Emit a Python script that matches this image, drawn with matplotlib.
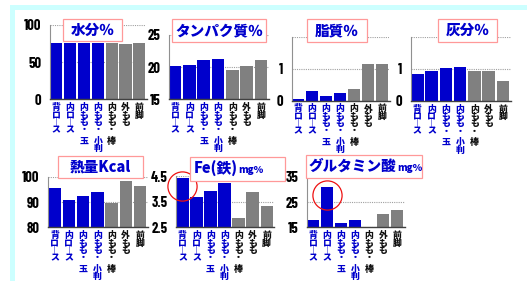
import matplotlib
matplotlib.use("Agg")
import matplotlib.pyplot as plt
from matplotlib.patches import Rectangle
from matplotlib.transforms import blended_transform_factory, offset_copy

plt.rcParams['font.family'] = ['Noto Sans CJK JP', 'DejaVu Sans']

categories = ["背ロース", "内ロース", "内もも・玉", "内もも・小判", "内もも・棒", "外もも", "前脚"]
is_blue = [True, True, True, True, False, False, False]

water = [76.2, 76.2, 76.2, 76.2, 76.2, 74.4, 76.2]
protein = [20.2, 20.3, 21.1, 21.2, 19.6, 20.2, 21.1]
fat = [0.05, 0.31, 0.15, 0.24, 0.36, 1.13, 1.13]
ash = [0.83, 0.94, 1.02, 1.06, 0.94, 0.94, 0.63]
energy = [95.6, 90.8, 92.4, 94.0, 89.7, 98.3, 96.3]
iron = [4.43, 3.69, 3.93, 4.24, 2.87, 3.89, 3.34]
glutamic = [17.9, 31.0, 16.6, 17.9, 15.2, 20.3, 21.9]

W, H = 527, 281
BLUE = '#0000cc'
GRAY = '#808080'

fig = plt.figure(figsize=(W / 100, H / 100), dpi=100)
fig.patch.set_facecolor('white')

def fbox(l, t, r, b):
    return [l / W, 1 - b / H, (r - l) / W, (b - t) / H]

# cyan frame
fig.patches.append(Rectangle((10 / W, 0), 5 / W, 1 - 5 / H, transform=fig.transFigure,
                             facecolor='#ccffff', edgecolor='none', zorder=0))
fig.patches.append(Rectangle((10 / W, 1 - 10 / H), 1, 5 / H, transform=fig.transFigure,
                             facecolor='#ccffff', edgecolor='none', zorder=0))

tick_font = dict(family=['Barlow Condensed', 'DejaVu Sans'], weight='bold', size=10.5)
LABEL_FS = 6.4
LS = 0.76

def vert(s):
    return "\n".join('｜' if ch == 'ー' else ch for ch in s)

def panel(rect, values, ylim, ticks, ticklabels):
    ax = fig.add_axes(fbox(*rect))
    cols = [BLUE if b else GRAY for b in is_blue]
    x = list(range(len(categories)))
    ax.bar(x, values, width=0.88, color=cols, zorder=2)
    ax.set_xlim(-0.46, len(categories) - 0.48)
    ax.set_ylim(*ylim)
    ax.set_yticks(ticks)
    ax.set_yticklabels(ticklabels, fontdict=tick_font)
    ax.tick_params(axis='y', length=0, pad=6)
    ax.set_xticks([])
    ax.yaxis.grid(True, linestyle=(0, (1, 1)), color='#a0a0a0', lw=0.8)
    ax.set_axisbelow(True)
    for s in ['top', 'right']:
        ax.spines[s].set_visible(False)
    ax.spines['left'].set_color('#909090')
    ax.spines['left'].set_linewidth(0.8)
    ax.spines['bottom'].set_color('#404040')
    ax.spines['bottom'].set_linewidth(1.0)
    ax.patch.set_alpha(0)
    trans = blended_transform_factory(ax.transData, ax.transAxes)
    for i, lab in enumerate(categories):
        c = BLUE if is_blue[i] else '#111111'
        if '・' in lab:
            k = lab.index('・') + 1
            parts = [(lab[:k], 4.0), (lab[k:], 37.5)]
        else:
            parts = [(lab, 4.0)]
        for txt, off in parts:
            ax.annotate(vert(txt), xy=(i, 0), xycoords=trans, xytext=(0, -off * 0.72),
                        textcoords='offset points', ha='center', va='top',
                        multialignment='center', linespacing=LS,
                        fontsize=LABEL_FS, fontweight='heavy', color=c,
                        annotation_clip=False)
    return ax

ax1 = panel((50, 25, 146.5, 99.3), water, (0, 100), [0, 50, 100], ['0', '50', '100'])
ax2 = panel((168.5, 35, 268.5, 99.3), protein, (15, 25), [15, 20, 25], ['15', '20', '25'])
ax3 = panel((291.7, 36.7, 389.5, 100.5), fat, (0, 2), [0, 1, 2], ['0', '1', ''])
ax4 = panel((410.7, 36.7, 510.5, 100.7), ash, (0, 2), [0, 1, 2], ['0', '1', ''])
ax5 = panel((48, 176.7, 147.5, 227.3), energy, (80, 100), [80, 90, 100], ['80', '90', '100'])
ax6 = panel((176, 176, 274, 227.3), iron, (2.5, 4.5), [2.5, 3.5, 4.5], ['2.5', '3.5', '4.5'])
ax7 = panel((306.7, 176.7, 404.5, 227.3), glutamic, (15, 35), [15, 25, 35], ['15', '25', '35'])

# red circles
for ax, vals, idx in [(ax6, iron, 0), (ax7, glutamic, 1)]:
    ax.plot([idx], [vals[idx]], marker='o', ms=21, mfc='none', mec='#ee1111', mew=0.9,
            clip_on=False, zorder=5,
            transform=offset_copy(ax.transData, fig, x=0, y=-8, units='dots'))

def title_simple(l, t, r, b, txt):
    fig.patches.append(Rectangle((l / W, 1 - b / H), (r - l) / W, (b - t) / H,
                                 transform=fig.transFigure, facecolor='white',
                                 edgecolor='#ff9999', lw=0.9, zorder=10))
    fig.text((l + r) / 2 / W, 1 - (t + b) / 2 / H, txt, ha='center', va='center',
             color=BLUE, fontsize=10.5, fontweight='heavy', zorder=11)

def title_mixed(l, t, r, b, big, small, x0):
    fig.patches.append(Rectangle((l / W, 1 - b / H), (r - l) / W, (b - t) / H,
                                 transform=fig.transFigure, facecolor='white',
                                 edgecolor='#ff9999', lw=0.9, zorder=10))
    t1 = fig.text(x0 / W, 1 - (t + b) / 2 / H, big, ha='left', va='center',
                  color=BLUE, fontsize=10.5, fontweight='heavy', zorder=11)
    fig.canvas.draw()
    bb = t1.get_window_extent()
    fig.text(bb.x1 / W + 0.5 / W, (bb.y0 + 1.5) / H, small, ha='left', va='bottom',
             color=BLUE, fontsize=7, fontweight='heavy', zorder=11)

title_simple(63, 19, 122, 41, '水分％')
title_simple(172, 19, 266, 42, 'タンパク質％')
title_simple(306.7, 19, 366.7, 42, '脂質％')
title_simple(437.7, 19, 496.7, 42, '灰分％')
title_simple(58, 155.7, 143, 178.3, '熱量Kcal')
title_mixed(190, 156.7, 285, 181, 'Fe(鉄)', 'mg％', 194)
title_mixed(306, 155, 421.7, 178.3, 'グルタミン酸', 'mg％', 309)

fig.savefig('out.png', dpi=100, facecolor='white')
